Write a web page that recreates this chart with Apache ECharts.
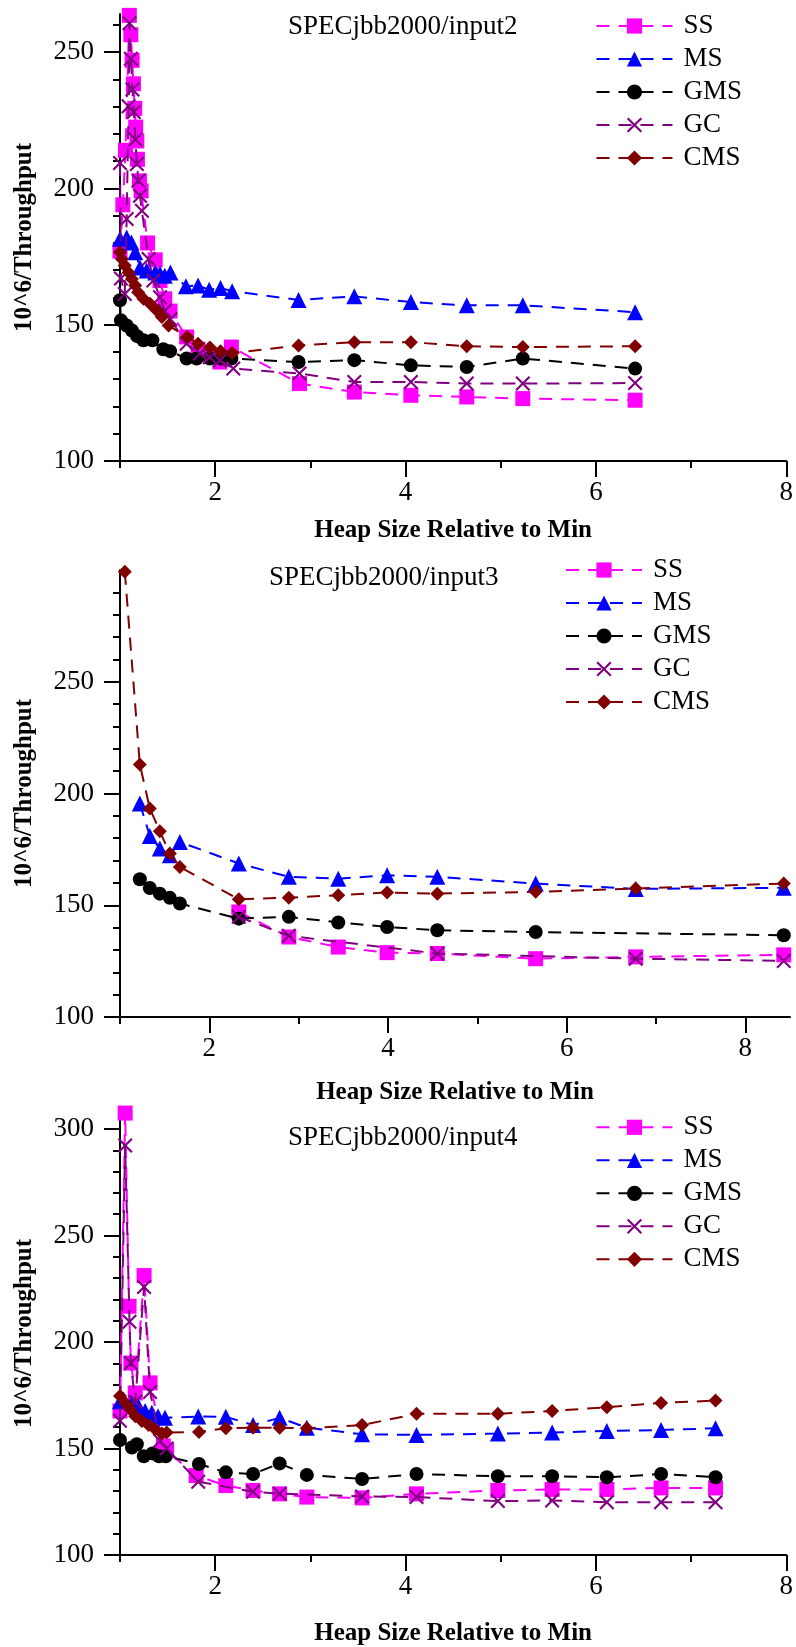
<!DOCTYPE html>
<html><head><meta charset="utf-8">
<script src="https://cdn.jsdelivr.net/npm/echarts@6/dist/echarts.min.js"></script>
<style>html,body{margin:0;padding:0;background:#fff}#c{width:796px;height:1647px}</style>
</head><body><div id="c"></div>
<script>
// ---------- labels ----------
const seriesNames = ['SS', 'MS', 'GMS', 'GC', 'CMS'];
const chartTitles = ['SPECjbb2000/input2', 'SPECjbb2000/input3', 'SPECjbb2000/input4'];
const xName = 'Heap Size Relative to Min';
const yName = '10^6/Throughput';

// ---------- ticks ----------
const xMajorTicks = [2, 4, 6, 8];
const xMinorTicks = [1, 3, 5, 7];
const xMax = [8, 8.5, 8];
const yMax = [264, 300, 308];
const yMajorTicks1 = [100, 150, 200, 250];
const yMajorTicks2 = [100, 150, 200, 250];
const yMajorTicks3 = [100, 150, 200, 250, 300];
const yMinorTicks1 = [110, 120, 130, 140, 160, 170, 180, 190, 210, 220, 230, 240, 260];
const yMinorTicks2 = [110, 120, 130, 140, 160, 170, 180, 190, 210, 220, 230, 240, 260, 270, 280, 290];
const yMinorTicks3 = [110, 120, 130, 140, 160, 170, 180, 190, 210, 220, 230, 240, 260, 270, 280, 290];

// ---------- data: input2 ----------
const in2_SS = [[1.0,177],[1.03,194],[1.058,214],[1.098,263.5],[1.114,256.4],[1.128,247],[1.141,238.4],[1.155,229.4],[1.165,222.5],[1.177,217.4],[1.183,210.7],[1.204,202.8],[1.222,199.1],[1.29,180],[1.37,173.8],[1.42,166.2],[1.47,159.5],[1.526,155],[1.70,145.5],[1.82,141],[1.94,139],[2.05,136.3],[2.17,141.8],[2.886,128.4],[3.462,125.3],[4.056,124.1],[4.643,123.5],[5.232,122.9],[6.412,122.3]];
const in2_MS = [[1.0,181.5],[1.07,182],[1.12,180.2],[1.16,176.6],[1.21,171],[1.28,169.9],[1.37,169.2],[1.42,168.7],[1.47,168],[1.53,169.2],[1.693,164.1],[1.82,164.4],[1.937,162.8],[2.056,163.5],[2.178,162.3],[2.876,159.1],[3.462,160.4],[4.056,158.3],[4.643,157.1],[5.232,157.1],[6.412,154.6]];
const in2_GMS = [[1.0,159],[1.01,151.6],[1.07,149.7],[1.125,147.9],[1.18,145.8],[1.246,144.3],[1.34,144.3],[1.455,141],[1.526,140.3],[1.70,137.6],[1.805,137.6],[1.944,137.6],[2.067,137.6],[2.17,137.6],[2.876,136.3],[3.462,137],[4.056,135.1],[4.643,134.5],[5.232,137.6],[6.412,133.9]];
const in2_GC = [[1.0,209.3],[1.01,167],[1.05,161.3],[1.07,188.8],[1.09,230.2],[1.10,260.6],[1.114,247.6],[1.131,236.3],[1.145,228],[1.162,218],[1.177,209],[1.194,202.8],[1.21,197.3],[1.23,191.8],[1.30,174.1],[1.35,166.2],[1.42,160.1],[1.47,155],[1.53,152],[1.70,143],[1.84,139.4],[1.944,138.1],[2.05,136.9],[2.19,133.9],[2.886,132.1],[3.462,129],[4.056,129],[4.643,128.4],[5.232,128.4],[6.412,128.6]];
const in2_CMS = [[1.0,176.6],[1.02,174.1],[1.05,171.7],[1.09,169.2],[1.125,166.8],[1.16,164.4],[1.19,161.9],[1.246,159.5],[1.316,157.7],[1.386,155.2],[1.44,152.8],[1.51,149.7],[1.707,145.5],[1.82,143],[1.944,141.6],[2.056,140.3],[2.178,139.6],[2.876,142.4],[3.462,143.6],[4.056,143.6],[4.643,142.1],[5.232,141.8],[6.412,142.1]];

// ---------- data: input3 ----------
const in3_SS = [[2.33,147],[2.89,135.8],[3.443,131.3],[3.99,128.8],[4.552,128.4],[5.653,126.1],[6.773,126.9],[8.43,127.8]];
const in3_MS = [[1.222,195.5],[1.334,181],[1.446,175.4],[1.558,172.4],[1.67,178.3],[2.33,168.7],[2.89,162.7],[3.443,161.9],[3.99,163.4],[4.552,162.7],[5.653,159.7],[6.773,157.3],[8.43,157.8]];
const in3_GMS = [[1.222,161.6],[1.334,157.7],[1.446,155.2],[1.558,153.3],[1.67,150.8],[2.33,144],[2.89,144.8],[3.443,142.3],[3.99,140.3],[4.552,138.8],[5.653,138],[8.43,136.6]];
const in3_GC = [[2.33,144.8],[2.89,136.3],[4.552,128.4],[6.773,126.1],[8.43,125.1]];
const in3_CMS = [[1.054,299.2],[1.222,213],[1.334,193.3],[1.446,183.1],[1.558,173.1],[1.67,167.1],[2.33,152.7],[2.89,153.4],[3.443,154.5],[3.99,155.7],[4.552,155.2],[5.653,156],[6.773,157.5],[8.43,159.7]];

// ---------- data: input4 ----------
const in4_SS = [[1.0,167.6],[1.054,307.5],[1.095,216.8],[1.114,190.1],[1.16,176.1],[1.253,231.2],[1.316,180.8],[1.455,151.2],[1.49,149],[1.80,137.3],[2.112,132.6],[2.398,130.3],[2.677,128.7],[2.963,127.2],[3.543,126.8],[4.115,128.7],[4.97,130.3],[5.54,130.8],[6.115,130.8],[6.685,131.5],[7.257,131.5]];
const in4_MS = [[1.0,172.2],[1.037,173],[1.125,171.4],[1.194,169.9],[1.264,167.6],[1.334,166.8],[1.40,165.2],[1.473,164.4],[1.822,165],[2.112,164.9],[2.398,161],[2.677,164.4],[2.963,159.8],[3.543,156.7],[4.115,156.4],[4.97,157],[5.54,157.5],[6.115,158.2],[6.685,158.7],[7.257,159.5]];
const in4_GMS = [[1.0,154],[1.125,150.5],[1.177,152],[1.25,146.4],[1.34,147.7],[1.41,146.4],[1.48,146.4],[1.829,142.7],[2.112,138.8],[2.398,138],[2.677,143],[2.963,137.6],[3.543,135.7],[4.115,138],[4.97,137],[5.54,137],[6.115,136.5],[6.685,138],[7.257,136.5]];
const in4_GC = [[1.0,163],[1.054,292.3],[1.10,209.5],[1.114,190.1],[1.16,172],[1.253,225.8],[1.316,176.5],[1.42,153.6],[1.49,150],[1.822,134.4],[2.398,129.7],[2.677,128.8],[3.543,127.5],[4.115,127.2],[4.97,125.3],[5.54,125.6],[6.115,124.8],[6.685,124.8],[7.257,124.8]];
const in4_CMS = [[1.0,174.6],[1.055,171.4],[1.107,168.3],[1.16,165.2],[1.23,162.9],[1.30,161],[1.37,159],[1.44,157.1],[1.49,157.5],[1.83,157.8],[2.112,159.5],[2.398,159.8],[2.677,159.8],[2.963,159.5],[3.543,161],[4.115,166.3],[4.97,166.3],[5.54,167.6],[6.115,169.4],[6.685,171.4],[7.257,172.5]];

const chartData = [
  [in2_SS, in2_MS, in2_GMS, in2_GC, in2_CMS],
  [in3_SS, in3_MS, in3_GMS, in3_GC, in3_CMS],
  [in4_SS, in4_MS, in4_GMS, in4_GC, in4_CMS]
];
const yMajor = [yMajorTicks1, yMajorTicks2, yMajorTicks3];
const yMinor = [yMinorTicks1, yMinorTicks2, yMinorTicks3];

// ---------- layout & style ----------
const FONT = 'Liberation Serif, Times New Roman, serif';
const grids = [
  {left: 120, top: 14, width: 668, height: 447},
  {left: 120, top: 570, width: 670, height: 447},
  {left: 120, top: 1112, width: 668, height: 446}
];
const xNameGaps = [57, 63, 66];
const titlePos = [{left: 288, top: 13.5}, {left: 269, top: 564.5}, {left: 288, top: 1124.5}];
const legendPos = [{right: 54, top: 12.5}, {left: 565, top: 556.5}, {right: 54, top: 1113.8}];
const xPath = 'path://M0,1L1,0L5,4L9,0L10,1L6,5L10,9L9,10L5,6L1,10L0,9L4,5Z';
const styles = {
  SS: {color: '#ff00ff', symbol: 'rect', size: 15},
  MS: {color: '#0000ff', symbol: 'triangle', size: 16},
  GMS: {color: '#000000', symbol: 'circle', size: 14},
  GC: {color: '#800080', symbol: xPath, size: 15},
  CMS: {color: '#800000', symbol: 'diamond', size: 14}
};
const DASH = [13, 9];

const xAxes = [], yAxes = [], series = [], titles = [], legends = [];
grids.forEach((g, i) => {
  const axLine = {show: true, onZero: false, lineStyle: {color: '#000', width: 2}};
  xAxes.push({
    type: 'value', gridIndex: i, min: 1, max: xMax[i], position: 'bottom',
    axisLine: axLine, splitLine: {show: false},
    axisTick: {show: true, customValues: xMajorTicks, length: 16, lineStyle: {color: '#000', width: 2}},
    axisLabel: {show: true, customValues: xMajorTicks, margin: 18, fontSize: 27, fontFamily: FONT, color: '#000'},
    name: xName, nameLocation: 'middle', nameGap: xNameGaps[i],
    nameTextStyle: {fontFamily: FONT, fontWeight: 'bold', fontSize: 25, color: '#000'}
  });
  xAxes.push({
    type: 'value', gridIndex: i, min: 1, max: xMax[i], position: 'bottom',
    axisLine: {show: false}, splitLine: {show: false},
    axisTick: {show: true, customValues: xMinorTicks, length: 7, lineStyle: {color: '#000', width: 2}},
    axisLabel: {show: false}
  });
  yAxes.push({
    type: 'value', gridIndex: i, min: 100, max: yMax[i], interval: 50, position: 'left',
    axisLine: axLine, splitLine: {show: false},
    axisTick: {show: true, customValues: yMajor[i], length: 16, lineStyle: {color: '#000', width: 2}},
    axisLabel: {show: true, customValues: yMajor[i], margin: 26, fontSize: 27, fontFamily: FONT, color: '#000'},
    name: yName, nameLocation: 'middle', nameGap: 83, nameRotate: 90,
    nameTextStyle: {fontFamily: FONT, fontWeight: 'bold', fontSize: 25, color: '#000'}
  });
  yAxes.push({
    type: 'value', gridIndex: i, min: 100, max: yMax[i], interval: 10, position: 'left', offset: 0,
    axisLine: {show: false}, splitLine: {show: false},
    axisTick: {show: true, customValues: yMinor[i], length: 7, lineStyle: {color: '#000', width: 2}},
    axisLabel: {show: false}
  });
  seriesNames.forEach((name, k) => {
    const s = styles[name];
    series.push({
      type: 'line', name: name, xAxisIndex: 2 * i, yAxisIndex: 2 * i,
      data: chartData[i][k], symbol: s.symbol, symbolSize: s.size, showSymbol: true,
      clip: false, z: 2 + k,
      lineStyle: {color: s.color, width: 2, type: DASH},
      itemStyle: {color: s.color, opacity: 1}
    });
  });
  titles.push({
    text: chartTitles[i], left: titlePos[i].left, top: titlePos[i].top, padding: 0,
    textStyle: {fontFamily: FONT, fontWeight: 'normal', fontSize: 27, color: '#000'}
  });
  legends.push(Object.assign({
    data: seriesNames, orient: 'vertical', align: 'left',
    padding: 0, itemGap: 6, itemWidth: 76, itemHeight: 19, selectedMode: false,
    textStyle: {fontFamily: FONT, fontSize: 27, color: '#000', padding: [0, 0, 0, 6]}
  }, legendPos[i]));
});

const chart = echarts.init(document.getElementById('c'), null, {renderer: 'canvas'});
chart.setOption({
  animation: false,
  backgroundColor: '#fff',
  title: titles,
  legend: legends,
  grid: grids,
  xAxis: xAxes,
  yAxis: yAxes,
  series: series
});
</script>
</body></html>
